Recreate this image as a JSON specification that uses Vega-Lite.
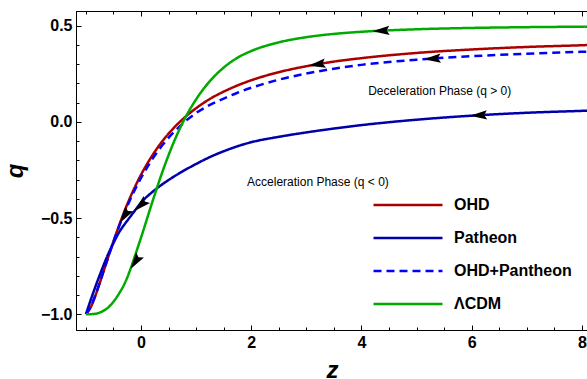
{
  "$schema": "https://vega.github.io/schema/vega-lite/v6.json",
  "width": 512,
  "height": 319,
  "autosize": {"type": "none"},
  "padding": {"left": 76, "top": 11, "right": 0, "bottom": 49},
  "background": "white",
  "config": {
    "view": {"stroke": "black", "strokeWidth": 1},
    "axis": {"grid": false, "domainColor": "black", "tickColor": "black", "labelColor": "black", "titleColor": "black", "labelFont": "Liberation Sans", "titleFont": "Liberation Sans", "labelFontWeight": "bold", "labelFontSize": 16, "tickWidth": 1, "domainWidth": 1, "labelOverlap": false, "labelFlush": false},
    "legend": {"orient": "none", "legendX": 296, "legendY": 183, "labelFont": "Liberation Sans", "labelFontWeight": "bold", "labelFontSize": 16, "labelColor": "black", "symbolType": "stroke", "symbolSize": 4761, "symbolStrokeWidth": 2.5, "clipHeight": 22, "rowPadding": 11, "labelOffset": 10, "padding": 0}
  },
  "datasets": {
    "curves": [
      {"model": "OHD", "z": -1, "q": -1}, {"model": "OHD", "z": -0.9, "q": -0.956}, {"model": "OHD", "z": -0.8, "q": -0.881}, {"model": "OHD", "z": -0.7, "q": -0.795}, {"model": "OHD", "z": -0.6, "q": -0.707}, {"model": "OHD", "z": -0.5, "q": -0.621}, {"model": "OHD", "z": -0.4, "q": -0.54}, {"model": "OHD", "z": -0.3, "q": -0.464}, {"model": "OHD", "z": -0.2, "q": -0.395}, {"model": "OHD", "z": -0.1, "q": -0.332}, {"model": "OHD", "z": 0, "q": -0.275}, {"model": "OHD", "z": 0.2, "q": -0.177}, {"model": "OHD", "z": 0.4, "q": -0.096}, {"model": "OHD", "z": 0.6, "q": -0.03}, {"model": "OHD", "z": 0.8, "q": 0.025}, {"model": "OHD", "z": 1.0, "q": 0.071}, {"model": "OHD", "z": 1.25, "q": 0.119}, {"model": "OHD", "z": 1.5, "q": 0.157}, {"model": "OHD", "z": 1.75, "q": 0.189}, {"model": "OHD", "z": 2.0, "q": 0.216}, {"model": "OHD", "z": 2.5, "q": 0.258}, {"model": "OHD", "z": 3.0, "q": 0.289}, {"model": "OHD", "z": 3.5, "q": 0.313}, {"model": "OHD", "z": 4.0, "q": 0.331}, {"model": "OHD", "z": 5.0, "q": 0.358}, {"model": "OHD", "z": 6.0, "q": 0.376}, {"model": "OHD", "z": 7.0, "q": 0.389}, {"model": "OHD", "z": 8.0, "q": 0.398}, {"model": "OHD", "z": 8.1, "q": 0.399},
      {"model": "Patheon", "z": -1, "q": -1}, {"model": "Patheon", "z": -0.9, "q": -0.915}, {"model": "Patheon", "z": -0.8, "q": -0.835}, {"model": "Patheon", "z": -0.7, "q": -0.76}, {"model": "Patheon", "z": -0.6, "q": -0.69}, {"model": "Patheon", "z": -0.5, "q": -0.63}, {"model": "Patheon", "z": -0.4, "q": -0.575}, {"model": "Patheon", "z": -0.3, "q": -0.533}, {"model": "Patheon", "z": -0.2, "q": -0.495}, {"model": "Patheon", "z": -0.1, "q": -0.457}, {"model": "Patheon", "z": 0, "q": -0.42}, {"model": "Patheon", "z": 0.2, "q": -0.366}, {"model": "Patheon", "z": 0.4, "q": -0.322}, {"model": "Patheon", "z": 0.6, "q": -0.284}, {"model": "Patheon", "z": 0.8, "q": -0.25}, {"model": "Patheon", "z": 1.0, "q": -0.219}, {"model": "Patheon", "z": 1.25, "q": -0.183}, {"model": "Patheon", "z": 1.5, "q": -0.153}, {"model": "Patheon", "z": 1.75, "q": -0.127}, {"model": "Patheon", "z": 2.0, "q": -0.106}, {"model": "Patheon", "z": 2.5, "q": -0.078}, {"model": "Patheon", "z": 3.0, "q": -0.055}, {"model": "Patheon", "z": 3.5, "q": -0.035}, {"model": "Patheon", "z": 4.0, "q": -0.017}, {"model": "Patheon", "z": 4.5, "q": -0.002}, {"model": "Patheon", "z": 5.0, "q": 0.011}, {"model": "Patheon", "z": 6.0, "q": 0.032}, {"model": "Patheon", "z": 7.0, "q": 0.047}, {"model": "Patheon", "z": 8.0, "q": 0.057}, {"model": "Patheon", "z": 8.1, "q": 0.058},
      {"model": "OHD+Pantheon", "z": -1, "q": -1}, {"model": "OHD+Pantheon", "z": -0.9, "q": -0.953}, {"model": "OHD+Pantheon", "z": -0.8, "q": -0.878}, {"model": "OHD+Pantheon", "z": -0.7, "q": -0.793}, {"model": "OHD+Pantheon", "z": -0.6, "q": -0.707}, {"model": "OHD+Pantheon", "z": -0.5, "q": -0.623}, {"model": "OHD+Pantheon", "z": -0.4, "q": -0.545}, {"model": "OHD+Pantheon", "z": -0.3, "q": -0.472}, {"model": "OHD+Pantheon", "z": -0.2, "q": -0.406}, {"model": "OHD+Pantheon", "z": -0.1, "q": -0.346}, {"model": "OHD+Pantheon", "z": 0, "q": -0.292}, {"model": "OHD+Pantheon", "z": 0.2, "q": -0.196}, {"model": "OHD+Pantheon", "z": 0.4, "q": -0.117}, {"model": "OHD+Pantheon", "z": 0.6, "q": -0.052}, {"model": "OHD+Pantheon", "z": 0.8, "q": 0.002}, {"model": "OHD+Pantheon", "z": 1.0, "q": 0.046}, {"model": "OHD+Pantheon", "z": 1.25, "q": 0.088}, {"model": "OHD+Pantheon", "z": 1.5, "q": 0.121}, {"model": "OHD+Pantheon", "z": 1.75, "q": 0.151}, {"model": "OHD+Pantheon", "z": 2.0, "q": 0.177}, {"model": "OHD+Pantheon", "z": 2.5, "q": 0.219}, {"model": "OHD+Pantheon", "z": 3.0, "q": 0.251}, {"model": "OHD+Pantheon", "z": 3.5, "q": 0.276}, {"model": "OHD+Pantheon", "z": 4.0, "q": 0.296}, {"model": "OHD+Pantheon", "z": 5.0, "q": 0.323}, {"model": "OHD+Pantheon", "z": 6.0, "q": 0.341}, {"model": "OHD+Pantheon", "z": 7.0, "q": 0.354}, {"model": "OHD+Pantheon", "z": 8.0, "q": 0.364}, {"model": "OHD+Pantheon", "z": 8.1, "q": 0.365},
      {"model": "ΛCDM", "z": -1, "q": -1}, {"model": "ΛCDM", "z": -0.9, "q": -0.9995}, {"model": "ΛCDM", "z": -0.8, "q": -0.996}, {"model": "ΛCDM", "z": -0.7, "q": -0.985}, {"model": "ΛCDM", "z": -0.6, "q": -0.966}, {"model": "ΛCDM", "z": -0.5, "q": -0.935}, {"model": "ΛCDM", "z": -0.4, "q": -0.893}, {"model": "ΛCDM", "z": -0.3, "q": -0.842}, {"model": "ΛCDM", "z": -0.2, "q": -0.772}, {"model": "ΛCDM", "z": -0.1, "q": -0.688}, {"model": "ΛCDM", "z": 0, "q": -0.602}, {"model": "ΛCDM", "z": 0.2, "q": -0.421}, {"model": "ΛCDM", "z": 0.4, "q": -0.25}, {"model": "ΛCDM", "z": 0.6, "q": -0.102}, {"model": "ΛCDM", "z": 0.8, "q": 0.02}, {"model": "ΛCDM", "z": 1.0, "q": 0.117}, {"model": "ΛCDM", "z": 1.25, "q": 0.212}, {"model": "ΛCDM", "z": 1.5, "q": 0.282}, {"model": "ΛCDM", "z": 1.75, "q": 0.333}, {"model": "ΛCDM", "z": 2.0, "q": 0.368}, {"model": "ΛCDM", "z": 2.5, "q": 0.413}, {"model": "ΛCDM", "z": 3.0, "q": 0.44}, {"model": "ΛCDM", "z": 3.5, "q": 0.457}, {"model": "ΛCDM", "z": 4.0, "q": 0.468}, {"model": "ΛCDM", "z": 5.0, "q": 0.481}, {"model": "ΛCDM", "z": 6.0, "q": 0.488}, {"model": "ΛCDM", "z": 7.0, "q": 0.492}, {"model": "ΛCDM", "z": 8.0, "q": 0.4945}, {"model": "ΛCDM", "z": 8.1, "q": 0.4947}
    ],
    "arrows": [
      {"id": "r1", "z": 3.04, "q": 0.291},
      {"id": "g1", "z": 4.2, "q": 0.4706},
      {"id": "d1", "z": 5.13, "q": 0.325},
      {"id": "b1", "z": 5.97, "q": 0.0316},
      {"id": "r2", "z": -0.38, "q": -0.525},
      {"id": "b2", "z": -0.12, "q": -0.464},
      {"id": "g2", "z": -0.19, "q": -0.765}
    ],
    "notes": [
      {"text": "Deceleration Phase (q > 0)", "z": 5.42, "q": 0.158},
      {"text": "Acceleration Phase (q < 0)", "z": 3.21, "q": -0.311}
    ]
  },
  "resolve": {"axis": {"x": "independent", "y": "independent"}},
  "layer": [
    {
      "mark": {"type": "rule", "color": "#666666", "strokeWidth": 1},
      "encoding": {
        "x": {"datum": 0, "type": "quantitative", "scale": {"domain": [-1.18, 8.11], "nice": false, "zero": false},
              "axis": {"orient": "bottom", "values": [0, 2, 4, 6, 8], "labels": false, "domain": false, "tickSize": -5, "title": null}}
      }
    },
    {
      "mark": {"type": "rule", "color": "black", "strokeWidth": 1},
      "encoding": {
        "y": {"datum": 0, "type": "quantitative", "scale": {"domain": [-1.082, 0.576], "nice": false, "zero": false},
              "axis": {"orient": "left", "values": [-1, -0.5, 0, 0.5], "labels": false, "domain": false, "tickSize": -5, "title": null}}
      }
    },
    {
      "data": {"name": "curves"},
      "mark": {"type": "line", "strokeWidth": 2.5, "interpolate": "monotone", "clip": true},
      "encoding": {
        "x": {"field": "z", "type": "quantitative", "scale": {"domain": [-1.18, 8.11], "nice": false, "zero": false},
              "axis": {"orient": "bottom", "values": [0, 2, 4, 6, 8], "ticks": false, "domain": true, "labelPadding": 4, "title": "z", "titleFontSize": 24, "titleFontWeight": "bold", "titleFontStyle": "italic", "titleY": 47, "titleBaseline": "alphabetic"}},
        "y": {"field": "q", "type": "quantitative", "scale": {"domain": [-1.082, 0.576], "nice": false, "zero": false},
              "axis": {"orient": "left", "values": [-1, -0.5, 0, 0.5], "format": ".1f", "ticks": false, "domain": true, "labelPadding": 4, "title": "q", "titleFontSize": 24, "titleFontWeight": "bold", "titleFontStyle": "italic", "titleX": -54, "titleBaseline": "alphabetic"}},
        "color": {"field": "model", "type": "nominal", "scale": {"domain": ["OHD", "Patheon", "OHD+Pantheon", "ΛCDM"], "range": ["#AA0000", "#0000AA", "#0000FF", "#00AA00"]}, "legend": {"title": null}},
        "strokeDash": {"field": "model", "type": "nominal", "scale": {"domain": ["OHD", "Patheon", "OHD+Pantheon", "ΛCDM"], "range": [[1, 0], [1, 0], [8, 5], [1, 0]]}, "legend": {"title": null}}
      }
    },
    {
      "data": {"name": "arrows"},
      "transform": [{"filter": "datum.id === 'r1'"}],
      "mark": {"type": "point", "shape": "M0,0L1.8,-0.5L1.5,0L1.8,0.5Z", "filled": true, "color": "black", "opacity": 1, "size": 356, "angle": -9},
      "encoding": {
        "x": {"field": "z", "type": "quantitative", "scale": {"domain": [-1.18, 8.11], "nice": false, "zero": false},
              "axis": {"orient": "bottom", "values": [-1, -0.5, 0.5, 1, 1.5, 2.5, 3, 3.5, 4.5, 5, 5.5, 6.5, 7, 7.5], "labels": false, "domain": false, "tickSize": -3, "title": null}},
        "y": {"field": "q", "type": "quantitative", "scale": {"domain": [-1.082, 0.576], "nice": false, "zero": false},
              "axis": {"orient": "left", "values": [-0.9, -0.8, -0.7, -0.6, -0.4, -0.3, -0.2, -0.1, 0.1, 0.2, 0.3, 0.4], "labels": false, "domain": false, "tickSize": -3, "title": null}}
      }
    },
    {
      "data": {"name": "arrows"},
      "transform": [{"filter": "datum.id === 'g1'"}],
      "mark": {"type": "point", "shape": "M0,0L1.8,-0.5L1.5,0L1.8,0.5Z", "filled": true, "color": "black", "opacity": 1, "size": 356, "angle": -3},
      "encoding": {
        "x": {"field": "z", "type": "quantitative", "scale": {"domain": [-1.18, 8.11], "nice": false, "zero": false},
              "axis": {"orient": "top", "values": [0, 2, 4, 6, 8], "labels": false, "domain": true, "tickSize": -5, "title": null}},
        "y": {"field": "q", "type": "quantitative", "scale": {"domain": [-1.082, 0.576], "nice": false, "zero": false}, "axis": null}
      }
    },
    {
      "data": {"name": "arrows"},
      "transform": [{"filter": "datum.id === 'd1'"}],
      "mark": {"type": "point", "shape": "M0,0L1.8,-0.5L1.5,0L1.8,0.5Z", "filled": true, "color": "black", "opacity": 1, "size": 356, "angle": -4},
      "encoding": {
        "x": {"field": "z", "type": "quantitative", "scale": {"domain": [-1.18, 8.11], "nice": false, "zero": false},
              "axis": {"orient": "top", "values": [-1, -0.5, 0.5, 1, 1.5, 2.5, 3, 3.5, 4.5, 5, 5.5, 6.5, 7, 7.5], "labels": false, "domain": false, "tickSize": -3, "title": null}},
        "y": {"field": "q", "type": "quantitative", "scale": {"domain": [-1.082, 0.576], "nice": false, "zero": false}, "axis": null}
      }
    },
    {
      "data": {"name": "arrows"},
      "transform": [{"filter": "datum.id === 'b1'"}],
      "mark": {"type": "point", "shape": "M0,0L1.8,-0.5L1.5,0L1.8,0.5Z", "filled": true, "color": "black", "opacity": 1, "size": 356, "angle": -3},
      "encoding": {
        "x": {"field": "z", "type": "quantitative", "scale": {"domain": [-1.18, 8.11], "nice": false, "zero": false}, "axis": null},
        "y": {"field": "q", "type": "quantitative", "scale": {"domain": [-1.082, 0.576], "nice": false, "zero": false}, "axis": null}
      }
    },
    {
      "data": {"name": "arrows"},
      "transform": [{"filter": "datum.id === 'r2'"}],
      "mark": {"type": "point", "shape": "M0,0L1.8,-0.5L1.5,0L1.8,0.5Z", "filled": true, "color": "black", "opacity": 1, "size": 356, "angle": -57},
      "encoding": {
        "x": {"field": "z", "type": "quantitative", "scale": {"domain": [-1.18, 8.11], "nice": false, "zero": false}, "axis": null},
        "y": {"field": "q", "type": "quantitative", "scale": {"domain": [-1.082, 0.576], "nice": false, "zero": false}, "axis": null}
      }
    },
    {
      "data": {"name": "arrows"},
      "transform": [{"filter": "datum.id === 'b2'"}],
      "mark": {"type": "point", "shape": "M0,0L1.8,-0.5L1.5,0L1.8,0.5Z", "filled": true, "color": "black", "opacity": 1, "size": 356, "angle": -43},
      "encoding": {
        "x": {"field": "z", "type": "quantitative", "scale": {"domain": [-1.18, 8.11], "nice": false, "zero": false}, "axis": null},
        "y": {"field": "q", "type": "quantitative", "scale": {"domain": [-1.082, 0.576], "nice": false, "zero": false}, "axis": null}
      }
    },
    {
      "data": {"name": "arrows"},
      "transform": [{"filter": "datum.id === 'g2'"}],
      "mark": {"type": "point", "shape": "M0,0L1.8,-0.5L1.5,0L1.8,0.5Z", "filled": true, "color": "black", "opacity": 1, "size": 356, "angle": -56},
      "encoding": {
        "x": {"field": "z", "type": "quantitative", "scale": {"domain": [-1.18, 8.11], "nice": false, "zero": false}, "axis": null},
        "y": {"field": "q", "type": "quantitative", "scale": {"domain": [-1.082, 0.576], "nice": false, "zero": false}, "axis": null}
      }
    },
    {
      "data": {"name": "notes"},
      "mark": {"type": "text", "font": "Liberation Sans", "fontSize": 12, "color": "black", "align": "center", "baseline": "middle"},
      "encoding": {
        "x": {"field": "z", "type": "quantitative", "scale": {"domain": [-1.18, 8.11], "nice": false, "zero": false}, "axis": null},
        "y": {"field": "q", "type": "quantitative", "scale": {"domain": [-1.082, 0.576], "nice": false, "zero": false}, "axis": null},
        "text": {"field": "text", "type": "nominal"}
      }
    }
  ]
}
